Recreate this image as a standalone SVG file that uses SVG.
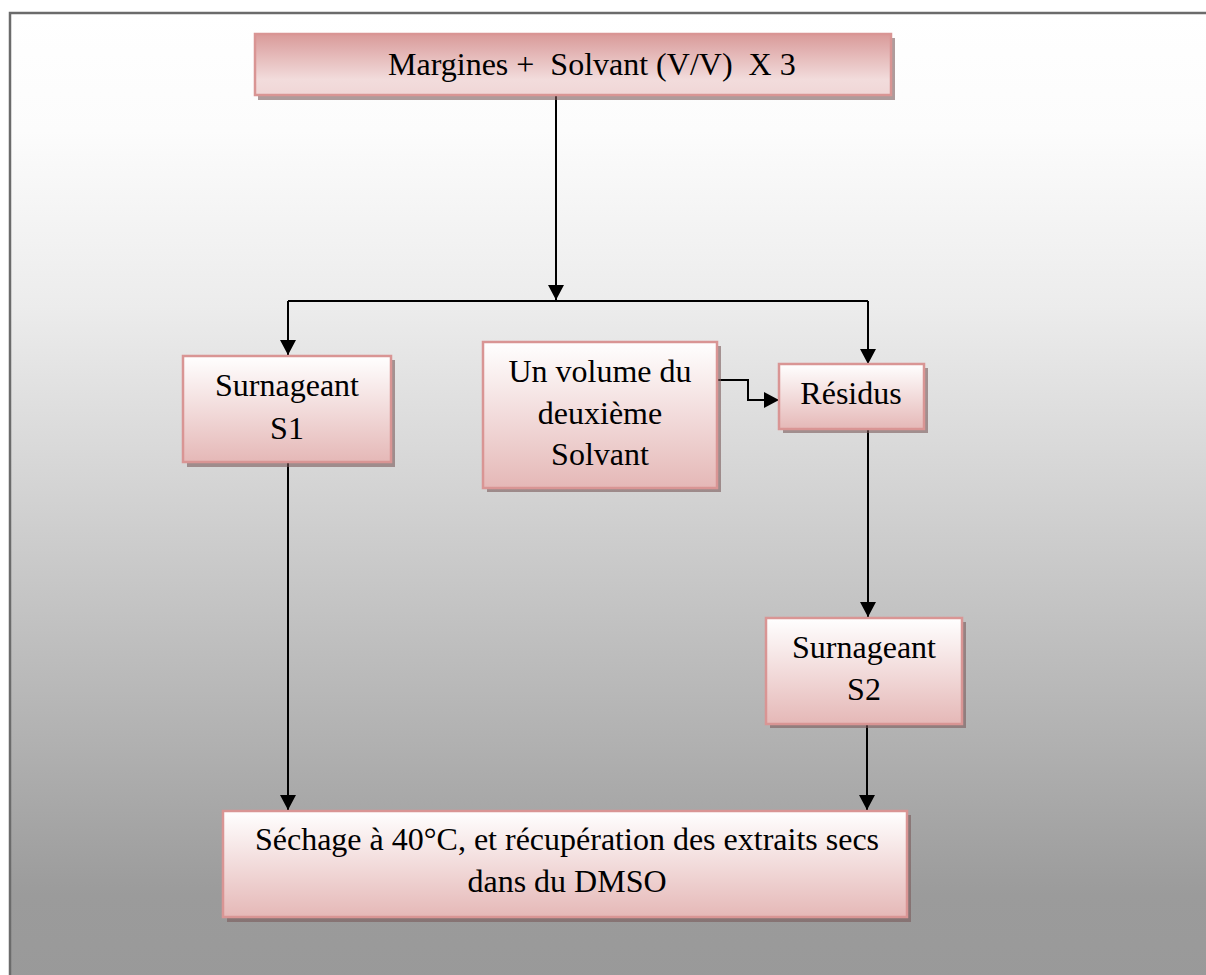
<svg xmlns="http://www.w3.org/2000/svg" width="1206" height="975" viewBox="0 0 1206 975">
  <defs>
    <linearGradient id="bg" x1="0" y1="0" x2="0" y2="1">
      <stop offset="0" stop-color="#ffffff"/>
      <stop offset="0.12" stop-color="#fcfcfc"/>
      <stop offset="0.3" stop-color="#ececec"/>
      <stop offset="0.55" stop-color="#cbcbcb"/>
      <stop offset="0.75" stop-color="#b0b0b0"/>
      <stop offset="0.9" stop-color="#9b9b9b"/>
      <stop offset="1" stop-color="#999999"/>
    </linearGradient>
    <linearGradient id="pink" x1="0" y1="0" x2="0" y2="1">
      <stop offset="0" stop-color="#ffffff"/>
      <stop offset="1" stop-color="#e5b8b7"/>
    </linearGradient>
    <linearGradient id="pinkTop" x1="0" y1="0" x2="0" y2="1">
      <stop offset="0" stop-color="#d99a99"/>
      <stop offset="0.75" stop-color="#f2dcdc"/>
      <stop offset="1" stop-color="#f0d6d6"/>
    </linearGradient>
    <marker id="arrow" viewBox="0 0 15 16" refX="15" refY="8" markerWidth="15" markerHeight="16" markerUnits="userSpaceOnUse" orient="auto">
      <path d="M0,0 L15,8 L0,16 Z" fill="#000"/>
    </marker>
  </defs>
  <style>
    .box { stroke: #d99594; stroke-width: 2.5; }
    .shadow { fill: #7a5a5a; opacity: 0.6; }
    .label { font-family: "Liberation Serif", "Times New Roman", serif; font-size: 32px; fill: #000; white-space: pre; }
    .mid { text-anchor: middle; }
    .link { fill: none; stroke: #000; stroke-width: 2; }
  </style>

  <!-- page frame -->
  <rect x="10" y="13" width="1210" height="980" fill="url(#bg)" stroke="#6b6b6b" stroke-width="2.5"/>

  <!-- connectors -->
  <g id="connectors">
    <path class="link" d="M556,96 V300" marker-end="url(#arrow)"/>
    <path class="link" d="M288,301 H868"/>
    <path class="link" d="M288,301 V355" marker-end="url(#arrow)"/>
    <path class="link" d="M868,301 V364" marker-end="url(#arrow)"/>
    <path class="link" d="M717,380 H748 V400 H779" marker-end="url(#arrow)"/>
    <path class="link" d="M868,430 V617" marker-end="url(#arrow)"/>
    <path class="link" d="M288,463 V810" marker-end="url(#arrow)"/>
    <path class="link" d="M867,724 V810" marker-end="url(#arrow)"/>
  </g>

  <!-- start: mixture -->
  <g id="node-margines">
    <rect class="shadow" x="258" y="38" width="637" height="62"/>
    <rect class="box" x="255" y="34" width="636" height="61" fill="url(#pinkTop)"/>
    <text class="label" x="388" y="75" xml:space="preserve">Margines +  Solvant (V/V)  X 3</text>
  </g>

  <!-- supernatant 1 -->
  <g id="node-s1">
    <rect class="shadow" x="187" y="360" width="208" height="107"/>
    <rect class="box" x="183" y="356" width="208" height="106" fill="url(#pink)"/>
    <text class="label mid" x="287" y="396">Surnageant</text>
    <text class="label mid" x="287" y="439">S1</text>
  </g>

  <!-- second solvent -->
  <g id="node-solvent2">
    <rect class="shadow" x="487" y="346" width="234" height="146"/>
    <rect class="box" x="483" y="342" width="234" height="146" fill="url(#pink)"/>
    <text class="label mid" x="600" y="382">Un volume du</text>
    <text class="label mid" x="600" y="424">deuxième</text>
    <text class="label mid" x="600" y="465">Solvant</text>
  </g>

  <!-- residue -->
  <g id="node-residus">
    <rect class="shadow" x="783" y="368" width="145" height="65"/>
    <rect class="box" x="779" y="364" width="145" height="65" fill="url(#pink)"/>
    <text class="label mid" x="851" y="404">Résidus</text>
  </g>

  <!-- supernatant 2 -->
  <g id="node-s2">
    <rect class="shadow" x="770" y="622" width="196" height="106"/>
    <rect class="box" x="766" y="618" width="196" height="106" fill="url(#pink)"/>
    <text class="label mid" x="864" y="658">Surnageant</text>
    <text class="label mid" x="864" y="700">S2</text>
  </g>

  <!-- drying and recovery -->
  <g id="node-sechage">
    <rect class="shadow" x="227" y="815" width="684" height="107"/>
    <rect class="box" x="223" y="811" width="684" height="106" fill="url(#pink)"/>
    <text class="label mid" x="567" y="850">Séchage à 40°C, et récupération des extraits secs</text>
    <text class="label mid" x="567" y="892">dans du DMSO</text>
  </g>
</svg>
